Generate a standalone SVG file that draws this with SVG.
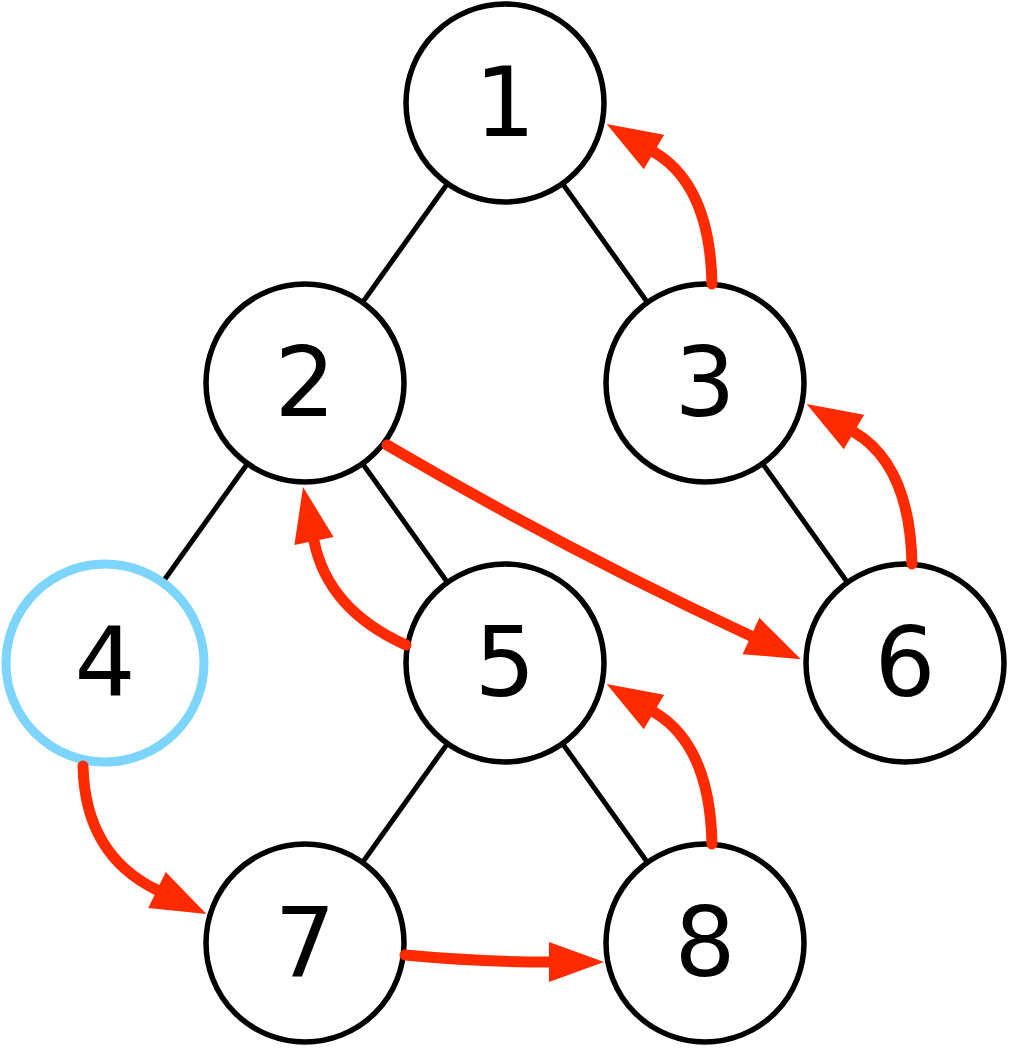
<svg xmlns="http://www.w3.org/2000/svg" width="1010" height="1048" viewBox="0 0 1010 1048">
<style>
.edge{stroke:#000;stroke-width:5;fill:none}
.node circle{fill:#fff;stroke:#000;stroke-width:5.5}
.node.hl circle{stroke:#7dd5fd;stroke-width:9}
.node text{font-family:"DejaVu Sans",sans-serif;font-size:96px;fill:#000;text-anchor:middle}
.arr{stroke:#ff2a00;stroke-width:11;fill:none;stroke-linecap:round;marker-end:url(#ah)}
</style>
<defs>
<marker id="ah" markerUnits="userSpaceOnUse" markerWidth="60" markerHeight="44" viewBox="0 -22 58 44" refX="0" refY="0" orient="auto">
<path d="M0,-20 L55,0 L0,20 z" fill="#ff2a00"/>
</marker>
</defs>
<rect width="1010" height="1048" fill="#fff"/>
<g id="edges">
<line class="edge" x1="505" y1="103" x2="305" y2="383"/>
<line class="edge" x1="505" y1="103" x2="705" y2="383"/>
<line class="edge" x1="305" y1="383" x2="105" y2="663"/>
<line class="edge" x1="305" y1="383" x2="505" y2="663"/>
<line class="edge" x1="705" y1="383" x2="905" y2="663"/>
<line class="edge" x1="505" y1="663" x2="305" y2="943"/>
<line class="edge" x1="505" y1="663" x2="705" y2="943"/>
</g>
<g id="node1" class="node"><circle cx="505" cy="103" r="99"/><text x="505" y="136">1</text></g>
<g id="node2" class="node"><circle cx="305" cy="383" r="99"/><text x="305" y="416">2</text></g>
<g id="node3" class="node"><circle cx="705" cy="383" r="99"/><text x="705" y="416">3</text></g>
<g id="node4" class="node hl"><circle cx="105" cy="663" r="99"/><text x="105" y="696">4</text></g>
<g id="node5" class="node"><circle cx="505" cy="663" r="99"/><text x="505" y="696">5</text></g>
<g id="node6" class="node"><circle cx="905" cy="663" r="99"/><text x="905" y="696">6</text></g>
<g id="node7" class="node"><circle cx="305" cy="943" r="99"/><text x="305" y="976">7</text></g>
<g id="node8" class="node"><circle cx="705" cy="943" r="99"/><text x="705" y="976">8</text></g>
<g id="arrows">
<path class="arr" d="M712,284 Q710,185 654,152"/>
<path class="arr" d="M912,564 Q910,465 854,432"/>
<path class="arr" d="M712,844 Q710,745 654,712"/>
<path class="arr" d="M406,645 Q328,610 314,541"/>
<path class="arr" d="M83,766 Q85,855 157,890"/>
<path class="arr" d="M387,445 Q566,550 751,636"/>
<path class="arr" d="M405,955 Q480,962 549,962"/>
</g>
</svg>
